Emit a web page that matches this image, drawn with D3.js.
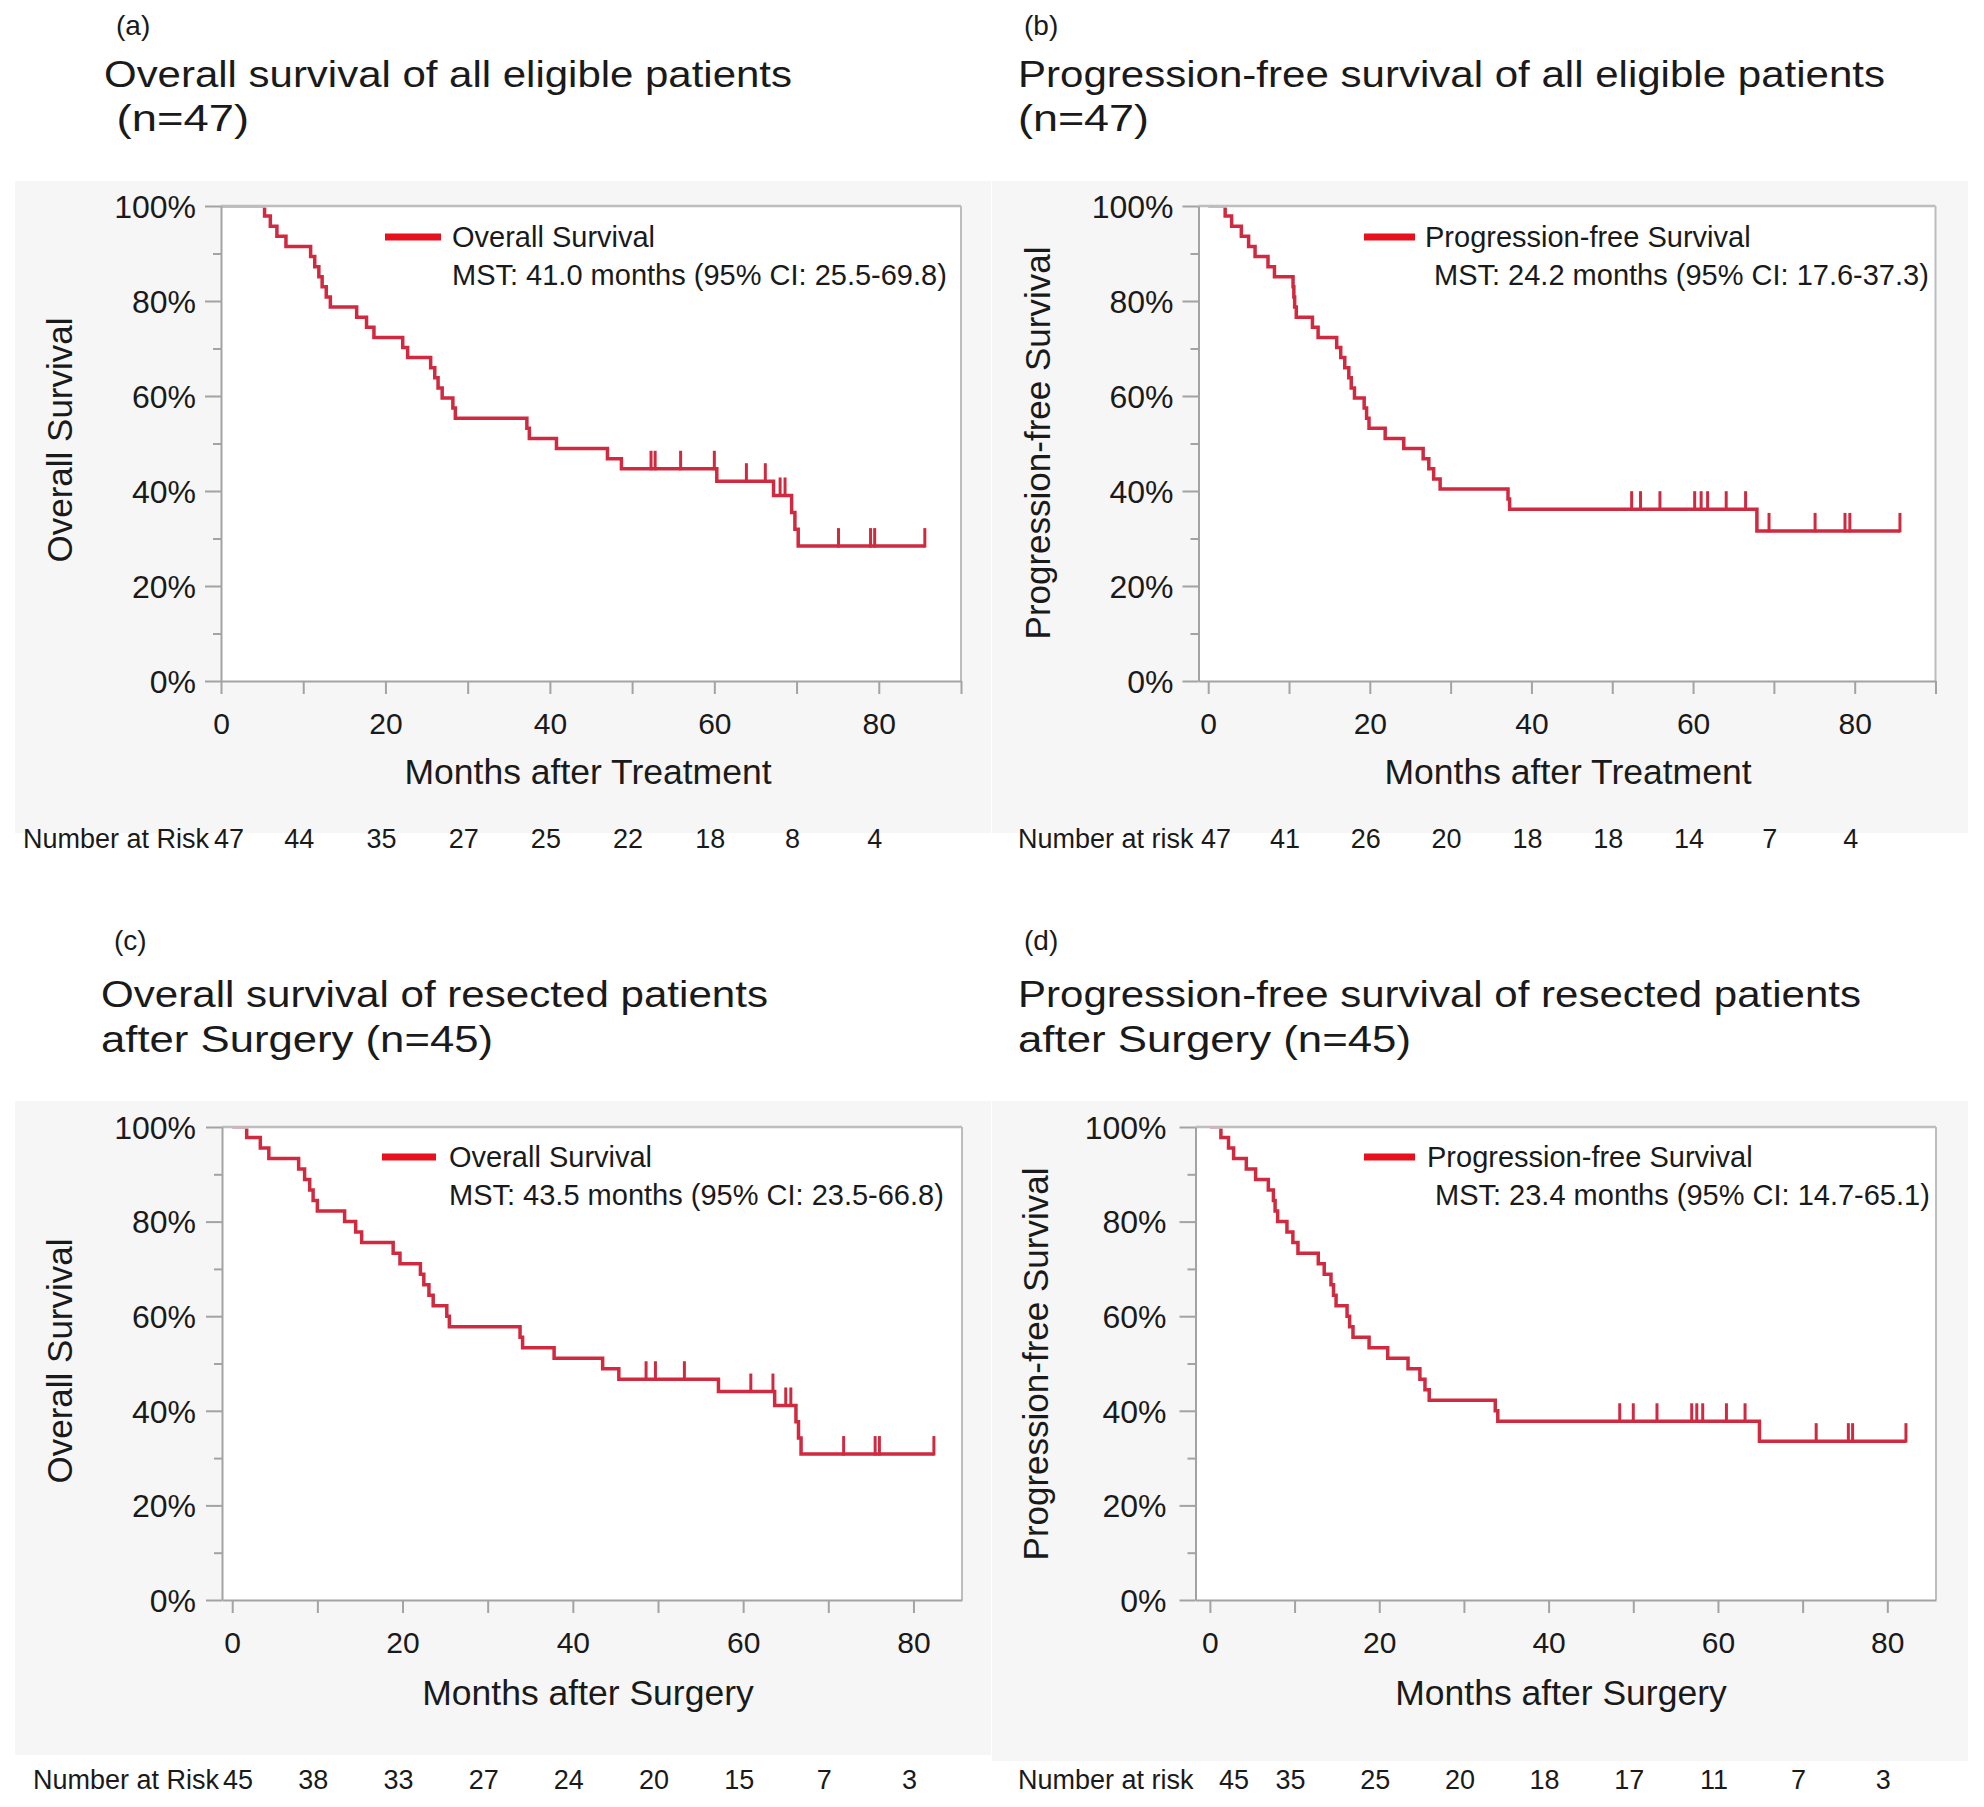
<!DOCTYPE html>
<html><head><meta charset="utf-8">
<script src="https://cdn.jsdelivr.net/npm/d3@7"></script>
<style>
body{margin:0;background:#fff;}
svg{display:block;font-family:"Liberation Sans",Arial,sans-serif;}
</style></head><body>
<svg id="chart" width="1984" height="1807"></svg>
<script>
// ---------- DATA ----------
const riskTimes = [0,10,20,30,40,50,60,70,80];
const xTickLabels = [0,20,40,60,80];
const yMajorTicks = [0,20,40,60,80,100];
const yMinorTicks = [10,30,50,70,90];

// (a) Overall survival, all eligible (n=47): [month, survival %]
const stepsA = [[0,100],[5.3,97.87],[6.0,95.74],[6.8,93.62],[7.9,91.49],[10.9,89.36],[11.4,87.23],[11.9,85.11],[12.3,82.98],[12.8,80.85],[13.3,78.72],[16.5,76.6],[17.7,74.47],[18.6,72.34],[22.1,70.21],[22.7,68.09],[25.5,65.96],[26.0,63.83],[26.4,61.7],[26.9,59.57],[28.2,57.45],[28.5,55.32],[37.2,53.19],[37.5,51.06],[40.8,48.94],[47.0,46.81],[48.7,44.68],[60.3,42.06],[67.2,39.06],[69.4,35.5],[69.8,31.96],[70.2,28.4]];
const censorA = [52.3,52.8,55.9,60.0,63.9,66.2,68.0,68.6,75.1,79.0,79.5,85.6];
const endA = 85.6;
const riskA = [47,44,35,27,25,22,18,8,4];

// (b) Progression-free survival, all eligible (n=47)
const stepsB = [[0,100],[2.1,97.87],[2.9,95.74],[4.1,93.62],[5.0,91.49],[5.8,89.36],[7.4,87.23],[8.2,85.11],[10.5,82.98],[10.6,80.85],[10.7,78.72],[10.9,76.6],[12.9,74.47],[13.6,72.34],[15.9,70.21],[16.4,68.09],[16.9,65.96],[17.4,63.83],[17.7,61.7],[18.1,59.57],[19.3,57.45],[19.6,55.32],[19.9,53.19],[21.9,51.06],[24.2,48.94],[26.6,46.81],[27.3,44.68],[27.9,42.55],[28.7,40.43],[37.1,38.3],[37.3,36.17],[67.9,31.6]];
const censorB = [52.4,53.5,55.9,60.2,61.0,61.8,64.1,66.5,69.4,75.1,78.8,79.4,85.6];
const endB = 85.6;
const riskB = [47,41,26,20,18,18,14,7,4];

// (c) Overall survival, resected (n=45)
const stepsC = [[0,100],[1.7,97.78],[3.3,95.56],[4.3,93.33],[7.8,91.11],[8.5,88.89],[9.1,86.67],[9.5,84.44],[10.0,82.22],[13.2,80.0],[14.5,77.78],[15.2,75.56],[18.9,73.33],[19.7,71.11],[22.1,68.89],[22.5,66.67],[23.1,64.44],[23.6,62.22],[25.2,60.0],[25.5,57.78],[33.8,55.56],[34.1,53.33],[37.8,51.11],[43.5,48.89],[45.4,46.67],[57.1,44.07],[63.7,41.13],[66.2,37.7],[66.5,34.27],[66.8,30.85]];
const censorC = [48.6,49.7,53.1,60.9,63.5,65.0,65.6,71.8,75.5,76.0,82.4];
const endC = 82.4;
const riskC = [45,38,33,27,24,20,15,7,3];

// (d) Progression-free survival, resected (n=45)
const stepsD = [[0,100],[1.3,97.78],[2.2,95.56],[2.8,93.33],[4.3,91.11],[5.4,88.89],[6.9,86.67],[7.5,84.44],[7.7,82.22],[8.0,80.0],[9.1,77.78],[9.8,75.56],[10.4,73.33],[12.8,71.11],[13.5,68.89],[14.3,66.67],[14.6,64.44],[14.9,62.22],[16.2,60.0],[16.5,57.78],[16.9,55.56],[18.8,53.33],[21.0,51.11],[23.4,48.89],[24.8,46.67],[25.4,44.44],[25.9,42.22],[33.7,40.0],[34.0,37.78],[64.9,33.58]];
const censorD = [48.4,50.0,52.8,56.9,57.5,58.2,61.0,63.2,71.6,75.4,75.9,82.2];
const endD = 82.2;
const riskD = [45,35,25,20,18,17,11,7,3];

const titleA = ["Overall survival of all eligible patients", " (n=47)"];
const titleB = ["Progression-free survival of all eligible patients", "(n=47)"];
const titleC = ["Overall survival of resected patients", "after Surgery (n=45)"];
const titleD = ["Progression-free survival of resected patients", "after Surgery (n=45)"];
const legendA = ["Overall Survival", "MST: 41.0 months (95% CI: 25.5-69.8)"];
const legendB = ["Progression-free Survival", "MST: 24.2 months (95% CI: 17.6-37.3)"];
const legendC = ["Overall Survival", "MST: 43.5 months (95% CI: 23.5-66.8)"];
const legendD = ["Progression-free Survival", "MST: 23.4 months (95% CI: 14.7-65.1)"];

// ---------- LAYOUT ----------
const panels = [
 {letter:"(a)", steps:stepsA, censor:censorA, end:endA, risk:riskA, title:titleA, legend:legendA,
  xLabel:"Months after Treatment", yLabel:"Overall Survival", riskLabel:"Number at Risk",
  bg:[15,181,976,652], plot:[221,961,206,681], dom:[0,90],
  letterPos:[116,35], titleX:104, titleY:[87,131], titleW:[688,145], ylab:[59,440], xlab:[588,772],
  leg:[385,441,452,452], legY:[237,275], riskPos:[23,839], riskFirst:229, yGap:25},
 {letter:"(b)", steps:stepsB, censor:censorB, end:endB, risk:riskB, title:titleB, legend:legendB,
  xLabel:"Months after Treatment", yLabel:"Progression-free Survival", riskLabel:"Number at risk",
  bg:[992,181,976,652], plot:[1198.5,1935.5,206,681], dom:[-1.2,90],
  letterPos:[1024,35], titleX:1018, titleY:[87,131], titleW:[867,131], ylab:[1037,443], xlab:[1568,772],
  leg:[1364,1415,1425,1434], legY:[237,275], riskPos:[1018,839], riskFirst:1216, yGap:25},
 {letter:"(c)", steps:stepsC, censor:censorC, end:endC, risk:riskC, title:titleC, legend:legendC,
  xLabel:"Months after Surgery", yLabel:"Overall Survival", riskLabel:"Number at Risk",
  bg:[15,1101,976,654], plot:[222,962,1127,1600], dom:[-1.2,85.7],
  letterPos:[114,950], titleX:101, titleY:[1007,1052], titleW:[667,392], ylab:[59,1361], xlab:[588,1693],
  leg:[382,436,449,449], legY:[1157,1195], riskPos:[33,1780], riskFirst:238, yGap:26},
 {letter:"(d)", steps:stepsD, censor:censorD, end:endD, risk:riskD, title:titleD, legend:legendD,
  xLabel:"Months after Surgery", yLabel:"Progression-free Survival", riskLabel:"Number at risk",
  bg:[992,1101,976,660], plot:[1195.5,1936,1127,1600], dom:[-1.7,85.75],
  letterPos:[1024,950], titleX:1018, titleY:[1007,1052], titleW:[843,393], ylab:[1035,1364], xlab:[1561,1693],
  leg:[1364,1415,1427,1435], legY:[1157,1195], riskPos:[1018,1780], riskFirst:1234, yGap:29}
];

const svg = d3.select("#chart");
const CURVE = "#cf2a40", LEG = "#e8101c", AX = "#a3a3a3", FRAME = "#bdbdbd", TXT = "#1a1a1a";

panels.forEach((p, i) => {
  const g = svg.append("g");
  const [x0, x1, yT, yB] = p.plot;
  const x = d3.scaleLinear().domain(p.dom).range([x0, x1]);
  const y = d3.scaleLinear().domain([0, 100]).range([yB, yT]);

  g.append("rect").attr("x", p.bg[0]).attr("y", p.bg[1]).attr("width", p.bg[2]).attr("height", p.bg[3]).attr("fill", "#f6f6f6");
  g.append("rect").attr("x", x0).attr("y", yT).attr("width", x1 - x0).attr("height", yB - yT).attr("fill", "#fff");

  // titles
  g.append("text").attr("x", p.letterPos[0]).attr("y", p.letterPos[1]).attr("font-size", 28).attr("fill", TXT).text(p.letter);
  p.title.forEach((t, k) => {
    g.append("text").attr("x", p.titleX).attr("y", p.titleY[k]).attr("font-size", 36).attr("fill", TXT)
      .attr("textLength", p.titleW[k]).attr("lengthAdjust", "spacingAndGlyphs")
      .style("white-space", "pre").text(t);
  });

  // clip
  const cid = "clip" + i;
  g.append("clipPath").attr("id", cid).append("rect").attr("x", x0).attr("y", yT + 1.5).attr("width", x1 - x0 + 4).attr("height", yB - yT);

  // curve
  const pts = p.steps.concat([[p.end, p.steps[p.steps.length - 1][1]]]);
  const line = d3.line().x(d => x(d[0])).y(d => y(d[1])).curve(d3.curveStepAfter);
  g.append("path").attr("d", line(pts)).attr("fill", "none").attr("stroke", CURVE).attr("stroke-width", 3.5)
    .attr("clip-path", `url(#${cid})`);

  // censor marks
  const levelAt = t => { let v = 100; p.steps.forEach(s => { if (s[0] <= t) v = s[1]; }); return v; };
  g.selectAll(".cens").data(p.censor).join("line")
    .attr("x1", d => x(d)).attr("x2", d => x(d))
    .attr("y1", d => y(levelAt(d)) + 1.5).attr("y2", d => y(levelAt(d)) - 18)
    .attr("stroke", CURVE).attr("stroke-width", 3);

  // frame top/right
  g.append("line").attr("x1", x0).attr("x2", x1).attr("y1", yT).attr("y2", yT).attr("stroke", FRAME).attr("stroke-width", 2.5);
  g.append("line").attr("x1", x1).attr("x2", x1).attr("y1", yT).attr("y2", yB).attr("stroke", FRAME).attr("stroke-width", 2);

  // x axis
  const xt = d3.range(0, p.dom[1] + 0.01, 10);
  const xa = g.append("g").attr("transform", `translate(0,${yB})`)
    .call(d3.axisBottom(x).tickValues(xt).tickSize(13).tickSizeOuter(0)
      .tickFormat(d => xTickLabels.includes(d) ? d : ""));
  xa.select(".domain").attr("stroke", AX).attr("stroke-width", 2);
  xa.selectAll(".tick line").attr("stroke", AX).attr("stroke-width", 2);
  xa.selectAll("text").attr("y", 42).attr("dy", "0.35em").attr("font-size", 30).attr("fill", TXT).attr("font-family", null);

  // y axis
  const ya = g.append("g").attr("transform", `translate(${x0},0)`)
    .call(d3.axisLeft(y).tickValues(yMajorTicks).tickSize(16).tickSizeOuter(0).tickFormat(d => d + "%"));
  ya.select(".domain").attr("stroke", AX).attr("stroke-width", 2);
  ya.selectAll(".tick line").attr("stroke", AX).attr("stroke-width", 2);
  ya.selectAll("text").attr("x", -p.yGap).attr("dy", "0.35em").attr("font-size", 32).attr("fill", TXT).attr("font-family", null);
  const ym = g.append("g").attr("transform", `translate(${x0},0)`)
    .call(d3.axisLeft(y).tickValues(yMinorTicks).tickSize(8).tickFormat(""));
  ym.select(".domain").remove();
  ym.selectAll(".tick line").attr("stroke", AX).attr("stroke-width", 2);

  // axis labels
  g.append("text").attr("transform", `translate(${p.ylab[0]},${p.ylab[1]}) rotate(-90)`)
    .attr("text-anchor", "middle").attr("dominant-baseline", "central").attr("font-size", 35).attr("fill", TXT).text(p.yLabel);
  g.append("text").attr("x", p.xlab[0]).attr("y", p.xlab[1]).attr("text-anchor", "middle").attr("dominant-baseline", "central")
    .attr("font-size", 35.5).attr("fill", TXT).text(p.xLabel);

  // legend
  g.append("line").attr("x1", p.leg[0]).attr("x2", p.leg[1]).attr("y1", p.legY[0]).attr("y2", p.legY[0])
    .attr("stroke", LEG).attr("stroke-width", 7);
  g.append("text").attr("x", p.leg[2]).attr("y", p.legY[0]).attr("dominant-baseline", "central").attr("font-size", 29).attr("fill", TXT).text(p.legend[0]);
  g.append("text").attr("x", p.leg[3]).attr("y", p.legY[1]).attr("dominant-baseline", "central").attr("font-size", 29).attr("fill", TXT).text(p.legend[1]);

  // number at risk
  g.append("text").attr("x", p.riskPos[0]).attr("y", p.riskPos[1]).attr("dominant-baseline", "central")
    .attr("font-size", 27).attr("fill", TXT).text(p.riskLabel);
  g.selectAll(".risk").data(p.risk).join("text")
    .attr("x", (d, k) => k === 0 ? p.riskFirst : x(riskTimes[k]) - 4)
    .attr("y", p.riskPos[1]).attr("text-anchor", "middle").attr("dominant-baseline", "central")
    .attr("font-size", 27).attr("fill", TXT).text(d => d);
});
</script>
</body></html>
